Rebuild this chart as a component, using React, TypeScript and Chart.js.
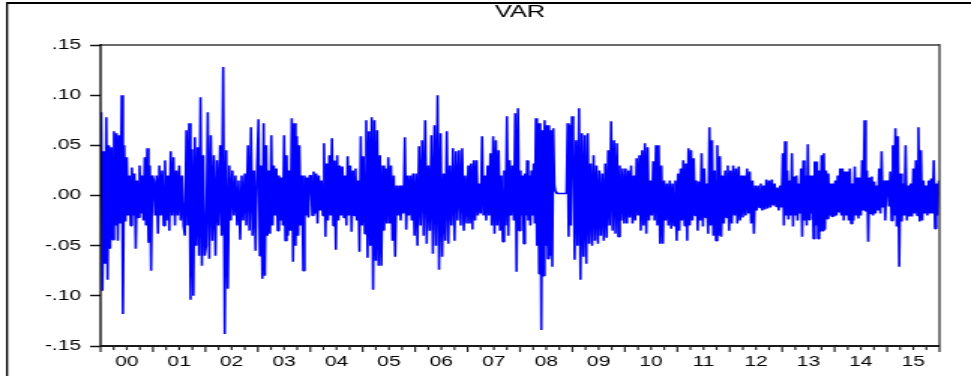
import React, { useEffect, useRef } from "react";
import { Chart, registerables } from "chart.js";

Chart.register(...registerables);

// ---- data ----
const years = [2000, 2001, 2002, 2003, 2004, 2005, 2006, 2007, 2008, 2009, 2010, 2011, 2012, 2013, 2014, 2015];
const yearLabels = ["00", "01", "02", "03", "04", "05", "06", "07", "08", "09", "10", "11", "12", "13", "14", "15"];
const yTickValues = [-0.15, -0.1, -0.05, 0, 0.05, 0.1, 0.15];

const v2000 = [0.083, -0.095, 0.044, -0.068, 0.078, -0.084, 0.05, -0.053, 0.048, -0.044, 0.064, -0.03, 0.062, -0.045, 0.06, -0.028, 0.1, -0.118, 0.05, -0.026, 0.038, -0.02, 0.02, -0.03, 0.028, -0.02, 0.022, -0.053, 0.015, -0.022, 0.03, -0.018, 0.02, -0.025, 0.038, -0.03, 0.047, -0.047, 0.03, -0.075, 0.02];
const v2001 = [0.015, -0.02, 0.02, -0.038, 0.03, -0.02, 0.025, -0.03, 0.035, -0.025, 0.02, -0.035, 0.044, -0.02, 0.038, -0.03, 0.025, -0.02, 0.03, -0.025, 0.02, -0.03, -0.04, 0.065, -0.03, 0.072, -0.104, 0.046, -0.1, 0.058, -0.05, 0.048, -0.06, 0.098, -0.07, 0.04, -0.06];
const v2002 = [-0.05, 0.083, -0.063, 0.06, -0.045, 0.04, -0.06, 0.035, -0.03, 0.05, -0.04, 0.128, -0.138, 0.045, -0.093, 0.03, -0.025, 0.025, -0.02, 0.02, -0.03, 0.015, -0.044, 0.02, -0.025, 0.022, -0.03, 0.05, -0.035, 0.068, -0.04, 0.025, -0.055, 0.03];
const v2003 = [0.076, -0.06, 0.03, -0.083, 0.072, -0.08, 0.05, -0.04, 0.025, -0.038, 0.06, -0.03, 0.03, -0.02, 0.027, -0.035, 0.02, -0.025, 0.018, -0.03, 0.06, -0.045, 0.04, -0.04, 0.025, -0.035, 0.077, -0.066, 0.072, -0.05, 0.059, -0.04, 0.05, -0.03, 0.02, -0.075, 0.02, -0.02, 0.018, -0.022, 0.02];
const v2004 = [0.02, -0.02, 0.024, -0.018, 0.022, -0.028, 0.02, -0.015, 0.015, -0.02, 0.052, -0.041, 0.032, -0.025, 0.04, -0.02, 0.057, -0.03, 0.035, -0.054, 0.04, -0.025, 0.03, -0.02, 0.029, -0.022, 0.02, -0.03, 0.039, -0.02, 0.03, -0.036, 0.025, -0.02, 0.027, -0.025, 0.015, -0.056, 0.059, -0.03];
const v2005 = [0.039, -0.038, 0.075, -0.062, 0.064, -0.05, 0.078, -0.094, 0.075, -0.065, 0.065, -0.07, 0.04, -0.07, 0.03, -0.035, 0.027, -0.028, 0.038, -0.028, 0.03, -0.045, 0.02, -0.061, 0.01, -0.02, 0.01, -0.025, 0.01, -0.018, 0.058, -0.034, 0.02, -0.02, 0.02, -0.025, 0.022, -0.04];
const v2006 = [0.022, -0.05, 0.049, -0.03, 0.055, -0.04, 0.075, -0.048, 0.03, -0.035, 0.06, -0.058, 0.07, -0.05, 0.1, -0.074, 0.062, -0.061, 0.022, -0.045, 0.064, -0.048, 0.03, -0.03, 0.047, -0.045, 0.044, -0.025, 0.045, -0.03, 0.047, -0.035, 0.02, -0.028];
const v2007 = [0.03, -0.028, 0.032, -0.034, 0.035, -0.025, 0.035, -0.02, 0.012, -0.018, 0.059, -0.02, 0.02, -0.025, 0.03, -0.02, 0.042, -0.03, 0.059, -0.038, 0.055, -0.03, 0.045, -0.035, 0.02, -0.046, 0.025, -0.03, 0.079, -0.04, 0.035, -0.02, 0.03, -0.025, 0.082, -0.076, 0.087, -0.035];
const v2008 = [0.025, -0.02, 0.02, -0.048, 0.022, -0.02, 0.035, -0.025, 0.02, -0.03, 0.025, -0.02, 0.032, -0.028, 0.077, -0.05, 0.072, -0.078, 0.072, -0.134, 0.065, -0.08, 0.075, -0.05, 0.07, -0.063, 0.07, -0.06, 0.065, -0.071, 0.067, 0.01, 0.004, 0.002, 0.002, 0.002, 0.002, 0.002, 0.002, 0.002, 0.002, 0.002, 0.002, 0.072, -0.041, 0.07, -0.03, 0.079];
const v2009 = [0.065, -0.064, 0.055, -0.05, 0.087, -0.084, 0.062, -0.061, 0.06, -0.068, 0.062, -0.048, 0.032, -0.05, 0.04, -0.045, 0.03, -0.048, 0.025, -0.04, 0.022, -0.045, 0.032, -0.042, 0.045, -0.03, 0.074, -0.035, 0.055, -0.038, 0.052, -0.041, 0.03, -0.025, 0.027, -0.028];
const v2010 = [0.027, -0.028, 0.025, -0.022, 0.03, -0.028, 0.02, -0.025, 0.037, -0.02, 0.04, -0.035, 0.045, -0.03, 0.052, -0.038, 0.048, -0.025, 0.015, -0.02, 0.034, -0.025, 0.05, -0.03, 0.05, -0.048, 0.03, -0.048, 0.015, -0.025, 0.012, -0.03, 0.015, -0.033, 0.012, -0.03, 0.015, -0.045];
const v2011 = [0.022, -0.035, 0.027, -0.025, 0.035, -0.03, 0.032, -0.045, 0.047, -0.03, 0.045, -0.025, 0.037, -0.02, 0.015, -0.035, 0.014, -0.025, 0.042, -0.031, 0.027, -0.022, 0.012, -0.038, 0.068, -0.03, 0.055, -0.04, 0.025, -0.045, 0.05, -0.04, 0.039, -0.041, 0.02, -0.028, 0.025, -0.022, 0.03, -0.035];
const v2012 = [0.025, -0.028, 0.03, -0.02, 0.027, -0.028, 0.029, -0.025, 0.02, -0.022, 0.02, -0.02, 0.027, -0.018, 0.024, -0.028, 0.015, -0.038, 0.01, -0.015, 0.01, -0.012, 0.012, -0.015, 0.01, -0.014, 0.016, -0.013, 0.015, -0.012, 0.016, -0.01, 0.012, -0.011, 0.008, -0.015, 0.01, -0.012];
const v2013 = [0.042, -0.03, 0.054, -0.02, 0.025, -0.024, 0.015, -0.02, 0.042, -0.031, 0.019, -0.02, 0.02, -0.025, 0.012, -0.018, 0.027, -0.041, 0.035, -0.025, 0.02, -0.03, 0.051, -0.024, 0.02, -0.018, 0.02, -0.043, 0.034, -0.03, 0.034, -0.043, 0.025, -0.036, 0.04, -0.035, 0.042, -0.034, 0.025, -0.023, 0.022, -0.02, 0.012, -0.021, 0.012, -0.021];
const v2014 = [0.015, -0.02, 0.02, -0.017, 0.027, -0.02, 0.027, -0.025, 0.024, -0.02, 0.024, -0.025, 0.027, -0.028, 0.012, -0.025, 0.029, -0.02, 0.018, -0.023, 0.018, -0.02, 0.035, -0.015, 0.075, -0.016, 0.025, -0.046, 0.018, -0.018, 0.019, -0.02, 0.014, -0.018, 0.01, -0.015, 0.027, -0.018, 0.044, -0.012, 0.015, -0.025, 0.012];
const v2015 = [0.015, -0.011, 0.024, -0.025, 0.05, -0.02, 0.067, -0.031, 0.059, -0.071, 0.022, -0.026, 0.012, -0.02, 0.05, -0.025, 0.01, -0.021, 0.012, -0.021, 0.027, -0.018, 0.035, -0.02, 0.068, -0.026, 0.045, -0.025, 0.015, -0.018, 0.01, -0.02, 0.015, -0.018, 0.017, -0.018, 0.035, -0.033, 0.012, -0.02, 0.015];

const seriesByYear = [v2000, v2001, v2002, v2003, v2004, v2005, v2006, v2007, v2008, v2009, v2010, v2011, v2012, v2013, v2014, v2015];

// ---- layout (internal canvas is stretched horizontally to 971 px, like the reference) ----
const INTERNAL_W = 647;
const H = 376;
const FONT = "'Liberation Sans', Arial, sans-serif";

function fmtY(v: number): string {
  const s = Math.abs(v).toFixed(2).replace(/^0/, "");
  return (v < -1e-9 ? "-" : "") + s;
}

const framePlugin = {
  id: "eviewsFrame",
  afterDraw(chart: any) {
    const { ctx, chartArea: a, scales } = chart;
    const W = chart.width;
    ctx.save();
    // outer frame (top + left)
    ctx.fillStyle = "#000";
    ctx.fillRect(4, 2, W, 2);
    ctx.fillRect(4, 2, 1.33, H);
    // plot box
    ctx.fillStyle = "#6a6a6a";
    ctx.fillRect(a.left, a.top - 1, a.right - a.left, 2);
    ctx.fillStyle = "#3a3a3a";
    ctx.fillRect(a.right - 0.67, a.top - 1, 1.33, a.bottom - a.top + 1);
    ctx.fillStyle = "#000";
    ctx.fillRect(a.left - 0.67, a.top - 1, 1.33, a.bottom - a.top + 2);
    ctx.fillStyle = "#1a1a1a";
    ctx.fillRect(a.left, a.bottom - 1, a.right - a.left, 2);
    // quarterly ticks on the time axis
    const xs = scales.x;
    for (let yr = years[0]; yr <= years[years.length - 1] + 1; yr++) {
      for (let q = 0; q < 4; q++) {
        if (yr === years[years.length - 1] + 1 && q > 0) break;
        const px = xs.getPixelForValue(yr + q / 4);
        const len = q === 0 ? 6 : 4;
        ctx.fillStyle = "#222";
        ctx.fillRect(px - 0.6, a.bottom, 1.2, len);
      }
    }
    ctx.restore();
  },
};

export default function App() {
  const canvasRef = useRef<HTMLCanvasElement | null>(null);

  useEffect(() => {
    const canvas = canvasRef.current;
    if (!canvas) return;
    const points = seriesByYear.flatMap((arr, k) =>
      arr.map((v, i) => ({ x: years[k] + (i + 0.5) / arr.length, y: v }))
    );
    const chart = new Chart(canvas, {
      type: "line",
      data: {
        datasets: [
          {
            label: "VAR",
            data: points,
            borderColor: "#0000ff",
            borderWidth: 1.6,
            borderJoinStyle: "bevel",
            pointRadius: 0,
            tension: 0,
            fill: false,
          },
        ],
      },
      options: {
        responsive: false,
        animation: false,
        devicePixelRatio: 1,
        events: [],
        layout: { padding: { left: 0, right: 21, top: 0, bottom: 0 } },
        plugins: {
          legend: { display: false },
          tooltip: { enabled: false },
          title: {
            display: true,
            text: "VAR",
            fullSize: false,
            color: "#000",
            font: { family: FONT, size: 17, weight: "normal" },
            padding: { top: 2, bottom: 22.6 },
          },
        },
        scales: {
          x: {
            type: "linear",
            min: years[0],
            max: years[years.length - 1] + 1,
            afterBuildTicks: (s: any) => {
              s.ticks = yearLabels.map((_, i) => ({ value: years[i] + 0.5 }));
            },
            afterFit: (s: any) => {
              s.height = 30;
            },
            ticks: {
              autoSkip: false,
              maxRotation: 0,
              padding: 8,
              color: "#000",
              font: { family: FONT, size: 14 },
              callback: (_v: any, i: number) => yearLabels[i],
            },
            grid: { display: false, drawTicks: false },
            border: { display: false },
          },
          y: {
            min: -0.15,
            max: 0.15,
            afterBuildTicks: (s: any) => {
              s.ticks = yTickValues.map((v) => ({ value: v }));
            },
            afterFit: (s: any) => {
              s.width = 67;
            },
            ticks: {
              autoSkip: false,
              padding: 6,
              color: "#000",
              font: { family: FONT, size: 14 },
              callback: (v: any) => fmtY(Number(v)),
            },
            grid: {
              drawOnChartArea: false,
              drawTicks: true,
              tickLength: 7,
              tickColor: "#111",
              tickWidth: 1.5,
            },
            border: { display: false },
          },
        },
      } as any,
      plugins: [framePlugin],
    });
    return () => {
      chart.destroy();
    };
  }, []);

  return (
    <div style={{ position: "fixed", left: 0, top: 0, width: 971, height: H, background: "#fff" }}>
      <canvas
        ref={canvasRef}
        width={INTERNAL_W}
        height={H}
        style={{ width: "971px", height: H + "px", display: "block" }}
      />
    </div>
  );
}
